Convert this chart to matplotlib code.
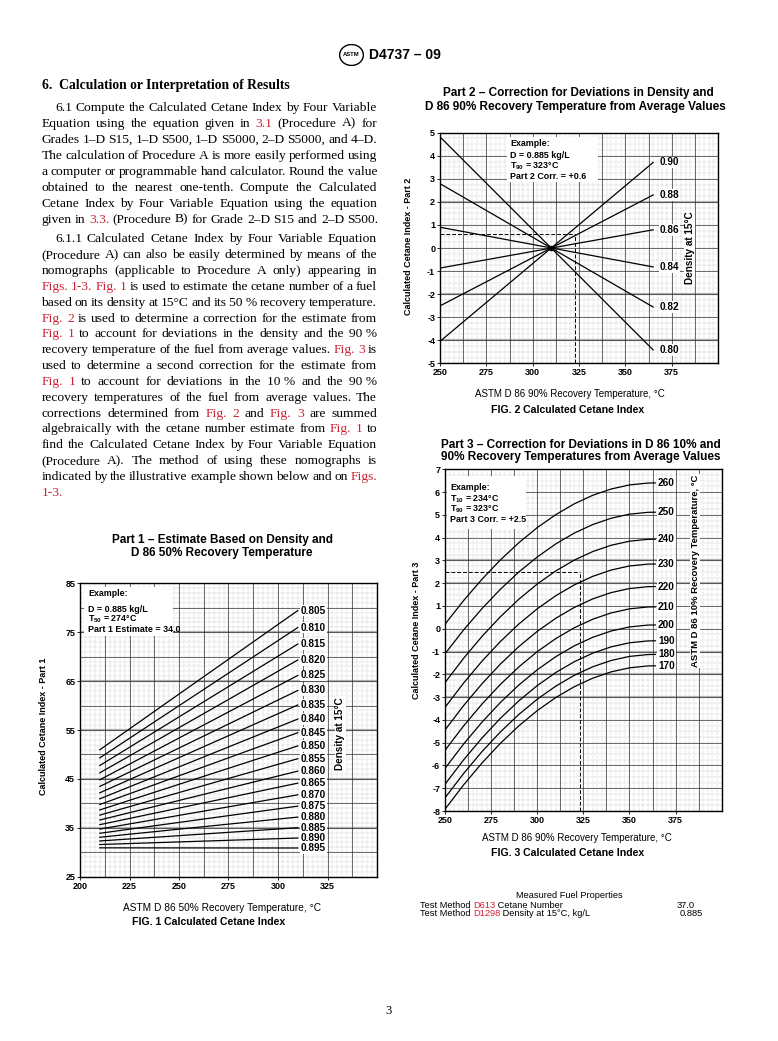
import numpy as np
import matplotlib
matplotlib.use('Agg')
import matplotlib.pyplot as plt
from matplotlib.font_manager import FontProperties
from matplotlib.patches import Ellipse

W, H, DPI = 778, 1041, 100
plt.rcParams['font.family'] = ['Liberation Sans', 'DejaVu Sans']
plt.rcParams['mathtext.default'] = 'regular'
plt.rcParams['axes.unicode_minus'] = False
RED = '#cc2233'

# ---------------- DATA ----------------
# Fig. 1 : Part 1 estimate, lines from T50=210 to T50=310
fig1_density = ['0.805', '0.810', '0.815', '0.820', '0.825', '0.830', '0.835', '0.840',
                '0.845', '0.850', '0.855', '0.860', '0.865', '0.870', '0.875', '0.880',
                '0.885', '0.890', '0.895']
fig1_t50 = [210, 310]
fig1_start = [50.96, 49.31, 47.74, 46.24, 44.82, 43.46, 42.16, 40.93, 39.76, 38.65,
              37.59, 36.59, 35.64, 34.74, 33.88, 33.07, 32.31, 31.58, 30.90]
fig1_end = [79.43, 75.95, 72.58, 69.32, 66.16, 63.09, 60.12, 57.24, 54.45, 51.75,
            49.13, 46.59, 44.13, 41.74, 39.43, 37.19, 35.02, 32.91, 30.87]
fig1_xticks = [200, 225, 250, 275, 300, 325]
fig1_yticks = [25, 35, 45, 55, 65, 75, 85]

# Fig. 2 : Part 2 correction, lines from T90=250 to T90=365
fig2_density = ['0.80', '0.82', '0.84', '0.86', '0.88', '0.90']
fig2_t90 = [250, 365]
fig2_start = [4.82, 2.79, 0.90, -0.87, -2.51, -4.05]
fig2_end = [-4.42, -2.56, -0.82, 0.79, 2.30, 3.71]
fig2_xticks = [250, 275, 300, 325, 350, 375]
fig2_yticks = [-5, -4, -3, -2, -1, 0, 1, 2, 3, 4, 5]

# Fig. 3 : Part 3 correction curves (one per T10)
fig3_t10 = ['170', '180', '190', '200', '210', '220', '230', '240', '250', '260']
fig3_t90 = [250, 260, 270, 280, 290, 300, 310, 320, 330, 340, 350, 360, 364]
fig3_vals = [
    [-7.924, -6.862, -5.898, -5.032, -4.264, -3.594, -3.022, -2.548, -2.172, -1.894, -1.714, -1.632, -1.627],
    [-7.424, -6.362, -5.398, -4.532, -3.764, -3.094, -2.522, -2.048, -1.672, -1.394, -1.214, -1.132, -1.127],
    [-6.826, -5.764, -4.800, -3.934, -3.166, -2.496, -1.924, -1.450, -1.074, -0.796, -0.616, -0.534, -0.529],
    [-6.130, -5.068, -4.104, -3.238, -2.470, -1.800, -1.228, -0.754, -0.378, -0.100, 0.080, 0.162, 0.167],
    [-5.336, -4.274, -3.310, -2.444, -1.676, -1.006, -0.434, 0.040, 0.416, 0.694, 0.874, 0.956, 0.961],
    [-4.444, -3.382, -2.418, -1.552, -0.784, -0.114, 0.458, 0.932, 1.308, 1.586, 1.766, 1.848, 1.853],
    [-3.454, -2.392, -1.428, -0.562, 0.206, 0.876, 1.448, 1.922, 2.298, 2.576, 2.756, 2.838, 2.843],
    [-2.366, -1.304, -0.340, 0.526, 1.294, 1.964, 2.536, 3.010, 3.386, 3.664, 3.844, 3.926, 3.931],
    [-1.100, -0.060, 0.880, 1.730, 2.490, 3.150, 3.722, 4.196, 4.572, 4.850, 5.030, 5.112, 5.117],
    [0.200, 1.230, 2.170, 3.020, 3.775, 4.440, 5.006, 5.480, 5.856, 6.134, 6.314, 6.396, 6.401],
]
fig3_xticks = [250, 275, 300, 325, 350, 375]
fig3_yticks = list(range(-8, 8))

# Examples
fig2_example = (323, 0.6)
fig3_example = (323, 2.5)

# Body text ([..] marks red cross-reference links)
heading = "6.  Calculation or Interpretation of Results"
para1 = [
    "6.1 Compute the Calculated Cetane Index by Four Variable",
    "Equation using the equation given in [3.1] (Procedure A) for",
    "Grades 1–D S15, 1–D S500, 1–D S5000, 2–D S5000, and 4–D.",
    "The calculation of Procedure A is more easily performed using",
    "a computer or programmable hand calculator. Round the value",
    "obtained to the nearest one-tenth. Compute the Calculated",
    "Cetane Index by Four Variable Equation using the equation",
    "given in [3.3.] (Procedure B) for Grade 2–D S15 and 2–D S500.",
]
para2 = [
    "6.1.1 Calculated Cetane Index by Four Variable Equation",
    "(Procedure A) can also be easily determined by means of the",
    "nomographs (applicable to Procedure A only) appearing in",
    "[Figs. 1-3.] [Fig. 1] is used to estimate the cetane number of a fuel",
    "based on its density at 15°C and its 50~% recovery temperature.",
    "[Fig. 2] is used to determine a correction for the estimate from",
    "[Fig. 1] to account for deviations in the density and the 90~%",
    "recovery temperature of the fuel from average values. [Fig. 3] is",
    "used to determine a second correction for the estimate from",
    "[Fig. 1] to account for deviations in the 10~% and the 90~%",
    "recovery temperatures of the fuel from average values. The",
    "corrections determined from [Fig. 2] and [Fig. 3] are summed",
    "algebraically with the cetane number estimate from [Fig. 1] to",
    "find the Calculated Cetane Index by Four Variable Equation",
    "(Procedure A). The method of using these nomographs is",
    "indicated by the illustrative example shown below and on [Figs.]",
    "[1-3.]",
]

# Measured fuel properties
props_title = 'Measured Fuel Properties'
props_rows = [
    ([('Test Method ', 'black'), ('D613', RED), (' Cetane Number', 'black')], '37.0'),
    ([('Test Method ', 'black'), ('D1298', RED), (' Density at 15°C, kg/L', 'black')], '0.885'),
]

# ---------------- FIGURE ----------------
fig = plt.figure(figsize=(W / DPI, H / DPI), dpi=DPI)
fig.patch.set_facecolor('white')
renderer = fig.canvas.get_renderer()


def px_rect(l, t, r, b):
    return [l / W, 1 - b / H, (r - l) / W, (b - t) / H]


def ftext(x, y, s, **kw):
    return fig.text(x / W, 1 - y / H, s, **kw)


def tw(s, fp):
    w, h, d = renderer.get_text_width_height_descent(s, fp, ismath=False)
    return w


def parse(line):
    """Split a line into (word, colour) pairs; words inside [..] are red."""
    words, red = [], False
    for tok in line.split(' '):
        if not tok:
            continue
        c = 'black'
        if tok.startswith('['):
            red = True
            tok = tok[1:]
        if red:
            c = RED
        if tok.endswith(']'):
            red = False
            tok = tok[:-1]
        words.append((tok.replace('~', ' '), c))
    return words


def draw_line(line, x0, x1, y, fp, justify):
    words = parse(line)
    widths = [tw(t, fp) for t, c in words]
    space = tw('a a', fp) - tw('aa', fp)
    gap = (x1 - x0 - sum(widths)) / (len(words) - 1) if (justify and len(words) > 1) else space
    x = x0
    for (t, c), wd in zip(words, widths):
        ftext(x, y, t, fontproperties=fp, color=c, ha='left', va='baseline')
        x += wd + gap


def draw_parts(x, y, parts, fp):
    for t, c in parts:
        ftext(x, y, t, fontproperties=fp, color=c, ha='left', va='baseline')
        x += tw(t, fp)


# Header
logo = fig.add_axes(px_rect(339, 44, 364, 66))
logo.set_xlim(0, 1); logo.set_ylim(0, 1); logo.axis('off')
logo.add_patch(Ellipse((0.5, 0.5), 0.95, 0.95, fill=False, lw=1.0, color='black'))
logo.text(0.5, 0.5, 'ASTM', ha='center', va='center', fontsize=4.2, fontweight='bold')
ftext(369, 55, 'D4737 – 09', fontsize=10, fontweight='bold', ha='left', va='center')

# Body text
body_fp = FontProperties(family='Liberation Serif', size=9.7)
head_fp = FontProperties(family='Liberation Serif', size=9.8, weight='bold')
XL, XR, XI = 41.5, 377, 55
ftext(XL, 89, heading, fontproperties=head_fp, ha='left', va='baseline')
for i, line in enumerate(para1):
    draw_line(line, XI if i == 0 else XL, XR, 110.7 + 16.0 * i, body_fp, i < len(para1) - 1)
for i, line in enumerate(para2):
    draw_line(line, XI if i == 0 else XL, XR, 242.3 + 15.85 * i, body_fp, i < len(para2) - 1)


def paper_grid(ax, xr, yr, xminor, xmajor, yminor, ymajor, ythick):
    dot = dict(color='#9a9a9a', lw=0.35, ls=(0, (1, 1.6)), zorder=0)
    for x in np.arange(xr[0], xr[1] + 1e-9, xminor):
        ax.axvline(x, **dot)
    for y in np.arange(yr[0], yr[1] + 1e-9, yminor):
        ax.axhline(y, **dot)
    for x in np.arange(xr[0], xr[1] + 1e-9, xmajor):
        ax.axvline(x, color='#333333', lw=0.5, zorder=0.5)
    for y in np.arange(yr[0], yr[1] + 1e-9, ymajor):
        ax.axhline(y, color='#333333', lw=0.5, zorder=0.5)
    for y in ythick:
        ax.axhline(y, color='#b0b0b0', lw=1.6, zorder=0.4)


def style_axes(ax, xticks, yticks):
    ax.set_xticks(xticks)
    ax.set_yticks(yticks)
    ax.tick_params(length=2, width=0.6, pad=1.5, labelsize=6.5)
    for lab in ax.get_xticklabels() + ax.get_yticklabels():
        lab.set_fontweight('bold')
    for s in ax.spines.values():
        s.set_linewidth(1.0)


BOLD7 = dict(fontsize=7.2, fontweight='bold')
EX = dict(fontsize=6.4, fontweight='bold', ha='left', va='center', zorder=5)
WBOX = dict(facecolor='white', edgecolor='none', pad=0.6)

# ---------------- Fig. 1 ----------------
ax1 = fig.add_axes(px_rect(80, 583.3, 377, 876.7))
ax1.set_xlim(200, 350); ax1.set_ylim(25, 85)
paper_grid(ax1, (200, 350), (25, 85), 2.5, 12.5, 1, 5, [35, 45, 55, 65, 75])
style_axes(ax1, fig1_xticks, fig1_yticks)
for lab, y0, y1 in zip(fig1_density, fig1_start, fig1_end):
    ax1.plot(fig1_t50, [y0, y1], color='black', lw=0.9, zorder=3)
    ax1.text(311.5, y1, lab, ha='left', va='center', bbox=WBOX, zorder=4, **BOLD7)
ax1.text(331.5, 54.3, 'Density at 15°C', rotation=90, ha='center', va='center',
         bbox=WBOX, zorder=4, **BOLD7)
ax1.add_patch(plt.Rectangle((202, 74.3), 45, 10, facecolor='white', edgecolor='none', zorder=4))
ax1.text(204, 82.95, 'Example:', **EX)
ax1.text(204, 79.7, 'D = 0.885 kg/L', **EX)
ax1.text(204, 77.6, 'T$_{50}$ = 274°C', **EX)
ax1.text(204, 75.45, 'Part 1 Estimate = 34.0', **EX)
ftext(222, 540, 'Part 1 – Estimate Based on Density and', fontsize=8.5, fontweight='bold',
      ha='center', va='center')
ftext(222, 553.3, 'D 86 50% Recovery Temperature', fontsize=8.5, fontweight='bold',
      ha='center', va='center')
ftext(43.3, 726.7, 'Calculated Cetane Index - Part 1', rotation=90, fontsize=6.5,
      fontweight='bold', ha='center', va='center')
ftext(222, 908.3, 'ASTM D 86 50% Recovery Temperature, °C', fontsize=7.3, ha='center', va='center')
ftext(209, 922, 'FIG. 1 Calculated Cetane Index', fontsize=7.6, fontweight='bold',
      ha='center', va='center')

# ---------------- Fig. 2 ----------------
ax2 = fig.add_axes(px_rect(440, 132.7, 718, 363.3))
ax2.set_xlim(250, 400); ax2.set_ylim(-5, 5)
paper_grid(ax2, (250, 400), (-5, 5), 2.5, 12.5, 0.25, 1, [2, -2, -4])
style_axes(ax2, fig2_xticks, fig2_yticks)
for lab, y0, y1 in zip(fig2_density, fig2_start, fig2_end):
    ax2.plot(fig2_t90, [y0, y1], color='black', lw=0.9, zorder=3)
    ax2.text(368.5, y1, lab, ha='left', va='center', bbox=WBOX, zorder=4, **BOLD7)
ax2.plot([310], [0], 'o', color='black', ms=3, zorder=3)
ex2x, ex2y = fig2_example
ax2.plot([250, ex2x], [ex2y, ex2y], color='black', lw=0.7, ls=(0, (4, 2)), zorder=2)
ax2.plot([ex2x, ex2x], [-5, ex2y], color='black', lw=0.7, ls=(0, (4, 2)), zorder=2)
ax2.text(384.7, 0, 'Density at 15°C', rotation=90, ha='center', va='center',
         bbox=WBOX, zorder=4, **BOLD7)
ax2.add_patch(plt.Rectangle((286, 2.85), 49, 1.95, facecolor='white', edgecolor='none', zorder=4))
ax2.text(288, 4.51, 'Example:', **EX)
ax2.text(288, 3.99, 'D = 0.885 kg/L', **EX)
ax2.text(288, 3.53, 'T$_{90}$ = 323°C', **EX)
ax2.text(288, 3.09, 'Part 2 Corr. = +0.6', **EX)
ftext(578, 93.3, 'Part 2 – Correction for Deviations in Density and', fontsize=8.5,
      fontweight='bold', ha='center', va='center')
ftext(575, 106.7, 'D 86 90% Recovery Temperature from Average Values', fontsize=8.5,
      fontweight='bold', ha='center', va='center')
ftext(408.3, 246.7, 'Calculated Cetane Index - Part 2', rotation=90, fontsize=6.5,
      fontweight='bold', ha='center', va='center')
ftext(570, 394, 'ASTM D 86 90% Recovery Temperature, °C', fontsize=7, ha='center', va='center')
ftext(568, 410, 'FIG. 2 Calculated Cetane Index', fontsize=7.6, fontweight='bold',
      ha='center', va='center')

# ---------------- Fig. 3 ----------------
ax3 = fig.add_axes(px_rect(445, 469.3, 721.7, 811))
ax3.set_xlim(250, 400); ax3.set_ylim(-8, 7)
paper_grid(ax3, (250, 400), (-8, 7), 2.5, 12.5, 0.25, 1, [3, 2, -1, -2, -3])
style_axes(ax3, fig3_xticks, fig3_yticks)
for lab, vals in zip(fig3_t10, fig3_vals):
    ax3.plot(fig3_t90, vals, color='black', lw=0.9, zorder=3)
    ax3.text(365.5, vals[-1], lab, ha='left', va='center', bbox=WBOX, zorder=4, **BOLD7)
ex3x, ex3y = fig3_example
ax3.plot([250, ex3x], [ex3y, ex3y], color='black', lw=0.7, ls=(0, (4, 2)), zorder=2)
ax3.plot([ex3x, ex3x], [-8, ex3y], color='black', lw=0.7, ls=(0, (4, 2)), zorder=2)
ax3.text(385.6, 2.55, 'ASTM D 86 10% Recovery Temperature, °C', rotation=90, ha='center',
         va='center', bbox=WBOX, zorder=4, fontsize=6.8, fontweight='bold')
ax3.add_patch(plt.Rectangle((251, 4.4), 43, 2.3, facecolor='white', edgecolor='none', zorder=4))
ax3.text(252.7, 6.2, 'Example:', **EX)
ax3.text(252.7, 5.67, 'T$_{10}$ = 234°C', **EX)
ax3.text(252.7, 5.23, 'T$_{90}$ = 323°C', **EX)
ax3.text(252.7, 4.78, 'Part 3 Corr. = +2.5', **EX)
ftext(581, 445, 'Part 3 – Correction for Deviations in D 86 10% and', fontsize=8.5,
      fontweight='bold', ha='center', va='center')
ftext(581, 457, '90% Recovery Temperatures from Average Values', fontsize=8.5,
      fontweight='bold', ha='center', va='center')
ftext(416.7, 630, 'Calculated Cetane Index - Part 3', rotation=90, fontsize=6.5,
      fontweight='bold', ha='center', va='center')
ftext(576.7, 838.3, 'ASTM D 86 90% Recovery Temperature, °C', fontsize=7, ha='center', va='center')
ftext(568, 853.3, 'FIG. 3 Calculated Cetane Index', fontsize=7.6, fontweight='bold',
      ha='center', va='center')

# ---------------- Measured fuel properties ----------------
small_fp = FontProperties(family='Liberation Sans', size=6.7)
ftext(569, 898.5, props_title, fontproperties=small_fp, ha='center', va='baseline')
for (parts, val), yb, xv in zip(props_rows, [908, 916.5], [677, 680]):
    draw_parts(420, yb, parts, small_fp)
    ftext(xv, yb, val, fontproperties=small_fp, ha='left', va='baseline')

# Page number
ftext(389, 1011, '3', fontproperties=FontProperties(family='Liberation Serif', size=9),
      ha='center', va='center')

fig.savefig('out.png', dpi=DPI, facecolor='white')
